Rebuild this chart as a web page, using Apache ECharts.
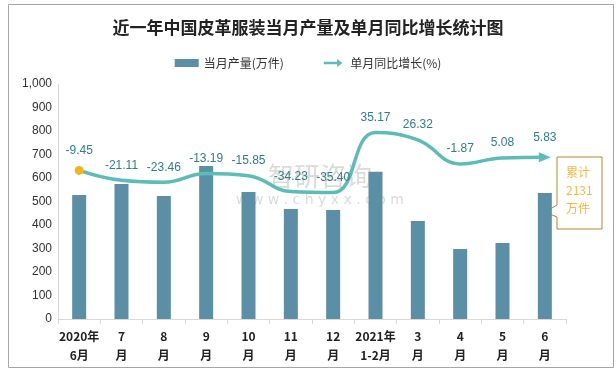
<!DOCTYPE html>
<html><head><meta charset="utf-8">
<script src="https://cdn.jsdelivr.net/npm/echarts@6/dist/echarts.min.js"></script>
<style>html,body{margin:0;padding:0;background:#fff}#c{width:616px;height:368px}</style>
</head><body><div id="c"></div>
<script>
const categories = ['2020年\n6月','7\n月','8\n月','9\n月','10\n月','11\n月','12\n月','2021年\n1-2月','3\n月','4\n月','5\n月','6\n月'];
const output = [528, 574, 523, 651, 540, 468, 464, 627, 417, 298, 323, 536];
const growth = [-9.45, -21.11, -23.46, -13.19, -15.85, -34.23, -35.40, 35.17, 26.32, -1.87, 5.08, 5.83];
const yTicks = [0, 100, 200, 300, 400, 500, 600, 700, 800, 900, 1000];
const titleText = '近一年中国皮革服装当月产量及单月同比增长统计图';
const seriesNames = ['当月产量(万件)', '单月同比增长(%)'];
const calloutText = '累计\n2131\n万件';

const chart = echarts.init(document.getElementById('c'));
const lineData = growth.map((v, i) => {
  if (i === 0) return {value: v, symbol: 'circle', symbolSize: 9, itemStyle: {color: '#F5B51A'}};
  if (i === growth.length - 1) return {value: v, symbol: 'triangle', symbolSize: [10, 12], symbolRotate: -90, itemStyle: {color: '#5BBDB5'}};
  return {value: v, symbol: 'circle', symbolSize: 0.01};
});
chart.setOption({
  animation: false,
  title: {text: titleText, left: 'center', top: 14,
    textStyle: {fontSize: 17, fontWeight: 'bold', color: '#222', fontFamily: 'Noto Sans CJK SC'}},
  legend: {top: 52, left: 'center', itemGap: 40, itemWidth: 24, itemHeight: 8,
    textStyle: {fontSize: 12, color: '#333', fontFamily: 'Noto Sans CJK SC'},
    data: [{name: seriesNames[0], icon: 'rect'},
           {name: seriesNames[1], icon: 'path://M0,4 L20,4 L20,0 L28,6 L20,12 L20,8 L0,8 Z', itemStyle: {color: '#5BBDB5'}}]},
  grid: {left: 58, right: 50, top: 84, bottom: 49},
  xAxis: {type: 'category', data: categories,
    axisLine: {lineStyle: {color: '#D9D9D9'}},
    axisTick: {show: true, length: 5, lineStyle: {color: '#D9D9D9'}},
    axisLabel: {interval: 0, color: '#222', fontSize: 12, fontWeight: 'bold', lineHeight: 19, margin: 8, fontFamily: 'Noto Sans CJK SC'}},
  yAxis: [
    {type: 'value', min: yTicks[0], max: yTicks[yTicks.length - 1], interval: 100,
     axisLine: {show: true, lineStyle: {color: '#D9D9D9'}}, axisTick: {show: false}, splitLine: {show: false},
     axisLabel: {color: '#333', fontSize: 12, margin: 6, fontFamily: 'Liberation Sans',
       formatter: v => v.toLocaleString('en-US')}},
    {type: 'value', min: -184, max: 92, show: false, splitLine: {show: false}}
  ],
  series: [
    {name: seriesNames[0], type: 'bar', data: output, barWidth: 14, itemStyle: {color: '#5B8FA6'}},
    {name: seriesNames[1], type: 'line', yAxisIndex: 1, data: lineData, smooth: 0.45, showAllSymbol: true,
     lineStyle: {color: '#5BBDB5', width: 3.5}, itemStyle: {color: '#5BBDB5'},
     label: {show: true, position: 'top', distance: 9, color: '#2F7F86', fontSize: 12, fontFamily: 'Liberation Sans',
       formatter: p => growth[p.dataIndex].toFixed(2)}},
  ],
  graphic: [
    {type: 'rect', left: 6, top: 2, shape: {width: 605, height: 363}, style: {fill: 'none', stroke: '#A6A6A6', lineWidth: 1}, silent: true},
    {type: 'text', left: 268, top: 163, style: {text: '智研咨询', fill: 'rgba(150,150,150,0.35)', font: '26px "Noto Sans CJK SC"'}, silent: true},
    {type: 'text', left: 236, top: 193, style: {text: 'w w w . c h y x x . c o m', fill: 'rgba(150,150,150,0.35)', font: '14px "DejaVu Sans"'}, silent: true},
    {type: 'polygon', shape: {points: [[557,157],[602,157],[602,229],[557,229],[557,217],[545,212],[557,205]]},
     style: {fill: '#fff', stroke: '#B8862B', lineWidth: 1}, silent: true},
    {type: 'text', left: 566, top: 163, style: {text: calloutText, fill: '#F5B940', font: '12px "Noto Sans CJK SC"', lineHeight: 18, align: 'center'}, silent: true}
  ]
});
</script></body></html>
